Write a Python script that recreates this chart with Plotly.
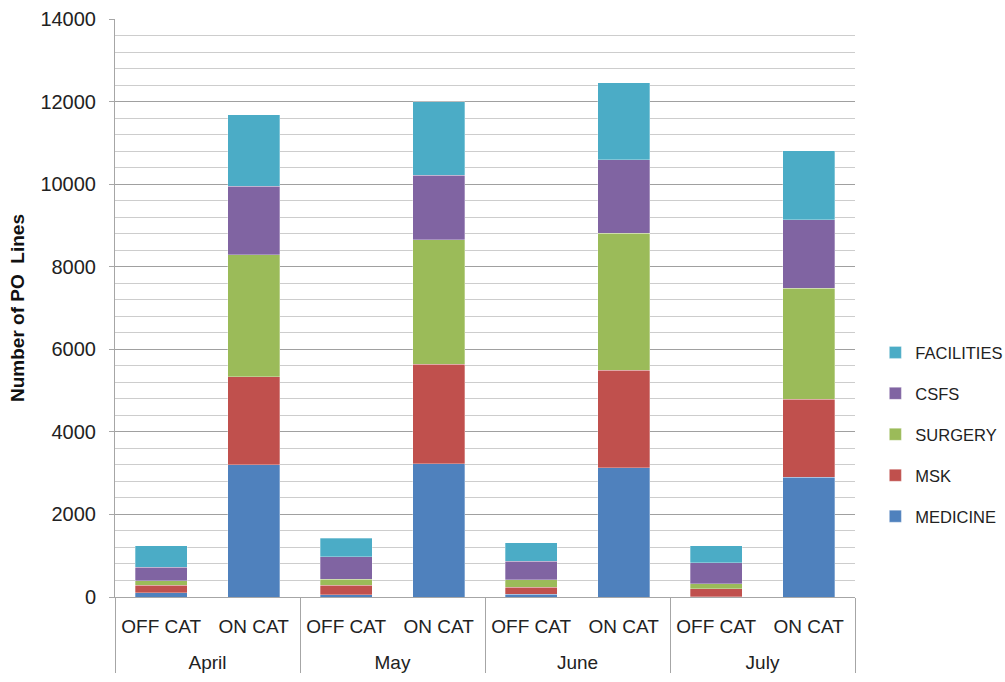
import plotly.graph_objects as go

months = ["April", "April", "May", "May", "June", "June", "July", "July"]
cats = ["OFF CAT", "ON CAT"] * 4

medicine = [100, 3200, 60, 3230, 65, 3125, 10, 2900]
msk = [190, 2135, 228, 2408, 177, 2366, 195, 1889]
surgery = [104, 2955, 136, 3018, 177, 3318, 111, 2692]
csfs = [332, 1657, 557, 1559, 446, 1776, 518, 1658]
facilities = [520, 1734, 446, 1783, 450, 1872, 402, 1664]

series = [
    ("MEDICINE", medicine, "#4F81BD"),
    ("MSK", msk, "#C0504D"),
    ("SURGERY", surgery, "#9BBB59"),
    ("CSFS", csfs, "#8064A2"),
    ("FACILITIES", facilities, "#4BACC6"),
]

month_labels = ["<br>" + m for m in months]

fig = go.Figure()
n = len(series)
for i, (name, vals, color) in enumerate(series):
    fig.add_trace(go.Bar(
        x=[month_labels, cats], y=vals, name=name,
        marker=dict(color=color, line=dict(color="rgba(255,255,255,0.6)", width=0.5)),
        legendgroup=name, legendrank=n - i,
    ))

font_family = "Liberation Sans, Arial, sans-serif"
fig.update_layout(
    barmode="stack",
    bargap=0.44,
    width=1005, height=682,
    margin=dict(l=115, r=150, t=19, b=85),
    paper_bgcolor="white", plot_bgcolor="white",
    font=dict(family=font_family, color="#222222"),
    showlegend=True,
    legend=dict(
        traceorder="grouped", tracegroupgap=16.5,
        xref="container", x=0.871, y=0.453, xanchor="left", yanchor="top",
        font=dict(size=16.5, color="#222222"),
        bgcolor="rgba(0,0,0,0)",
    ),
    xaxis=dict(
        type="multicategory", automargin=False,
        showdividers=True, dividercolor="#a6a6a6", dividerwidth=1,
        showline=True, linecolor="#a6a6a6", linewidth=1,
        tickfont=dict(size=19, color="#222222"),
        ticklabelstandoff=12,
        showgrid=False,
    ),
    yaxis=dict(
        automargin=False,
        range=[0, 14000], dtick=2000, tick0=0, tickformat="d",
        showgrid=True, gridcolor="#a0a0a0", gridwidth=1,
        minor=dict(dtick=400, showgrid=True, gridcolor="#cdcdcd", gridwidth=1),
        showline=True, linecolor="#a6a6a6", linewidth=1,
        ticks="outside", ticklen=5, tickcolor="#a6a6a6",
        ticklabelstandoff=9,
        tickfont=dict(size=20, color="#222222"),
        title=dict(text="<b>Number of PO  Lines</b>", font=dict(size=19, color="#111111"), standoff=10),
        zeroline=False,
    ),
)

fig.write_html("out.html", config={"displayModeBar": False},
               post_script="document.body.style.margin='0';")
